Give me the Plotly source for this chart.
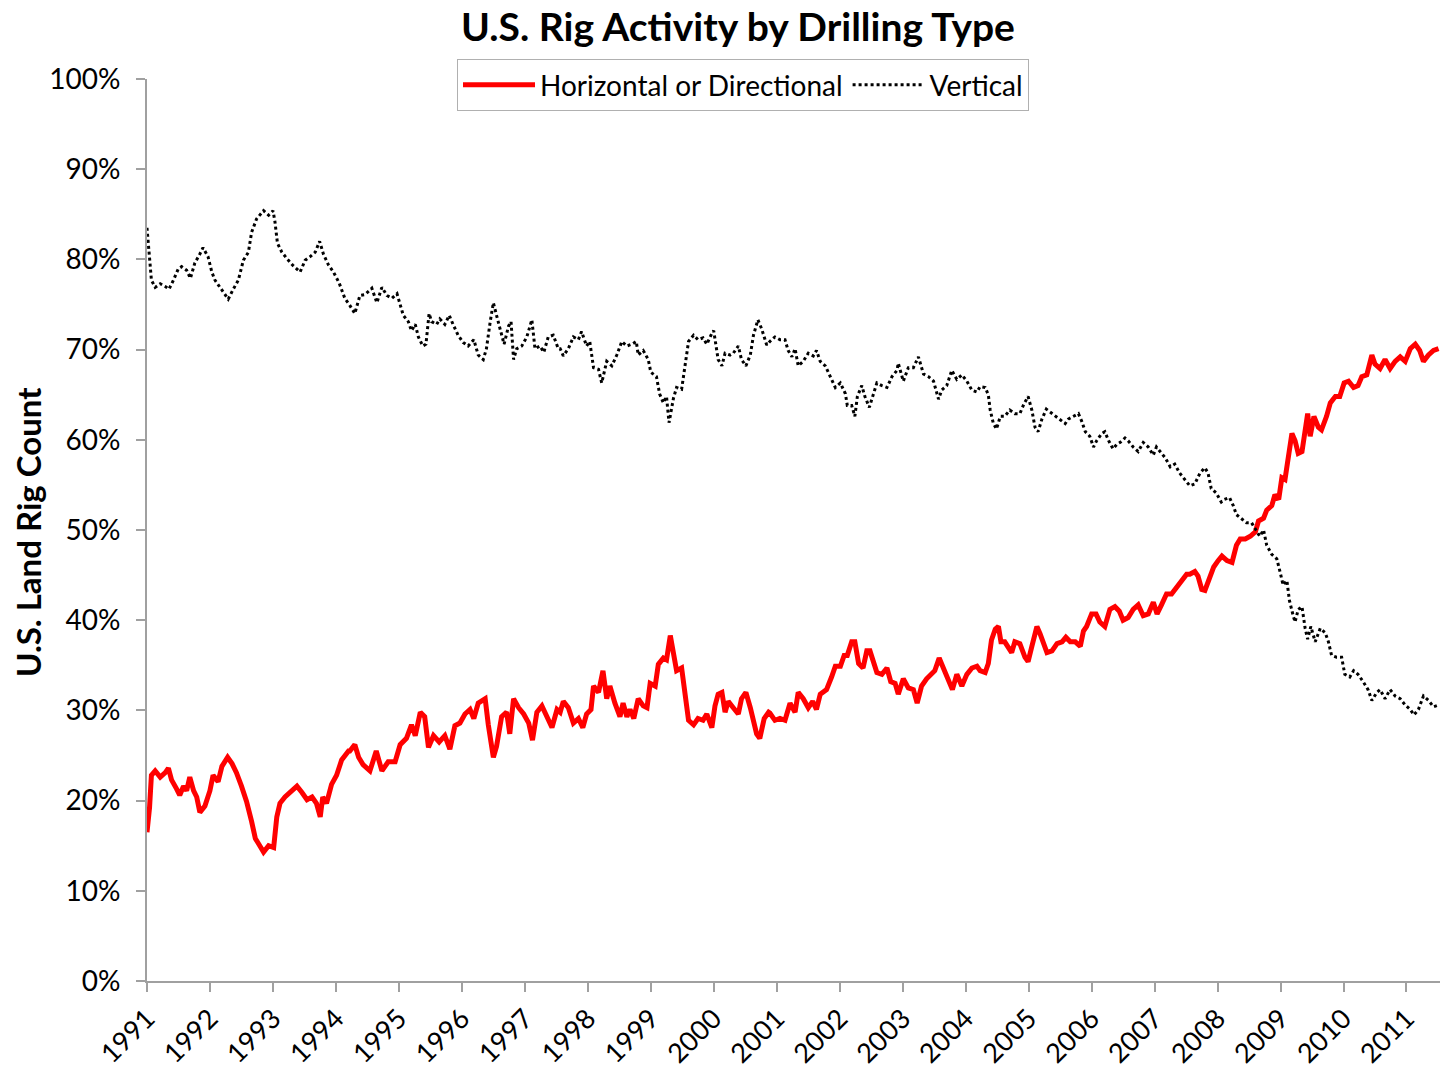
import pandas as pd
import plotly.graph_objects as go

# ---- data (decimal years, percent of U.S. land rig count) ----
horiz_t = [
    1991.00, 1991.04, 1991.07, 1991.13, 1991.21, 1991.29, 1991.34, 1991.39, 1991.47, 1991.52,
    1991.58, 1991.63, 1991.68, 1991.74, 1991.79, 1991.84, 1991.92, 1992.00, 1992.05, 1992.13,
    1992.19, 1992.28, 1992.35, 1992.42, 1992.50, 1992.58, 1992.66, 1992.72, 1992.79, 1992.85,
    1992.93, 1993.01, 1993.06, 1993.11, 1993.19, 1993.27, 1993.38, 1993.46, 1993.54, 1993.62,
    1993.69, 1993.75, 1993.79, 1993.85, 1993.93, 1994.01, 1994.09, 1994.20,
    1994.22, 1994.30, 1994.36, 1994.43, 1994.54, 1994.64, 1994.73, 1994.83, 1994.94, 1995.02,
    1995.12, 1995.20, 1995.26, 1995.34, 1995.41, 1995.47, 1995.55, 1995.64, 1995.73, 1995.81,
    1995.89, 1995.97, 1996.05, 1996.13, 1996.19, 1996.26, 1996.37, 1996.42, 1996.50, 1996.55,
    1996.63, 1996.71, 1996.76, 1996.82, 1996.90, 1996.98, 1997.06, 1997.12, 1997.19, 1997.27,
    1997.35, 1997.43, 1997.51,
    1997.56, 1997.61, 1997.69, 1997.77, 1997.85, 1997.92, 1997.98, 1998.05, 1998.09, 1998.17,
    1998.24, 1998.30, 1998.35, 1998.43, 1998.51, 1998.56, 1998.62, 1998.67, 1998.73, 1998.80,
    1998.88, 1998.94, 1998.99, 1999.07, 1999.12, 1999.20, 1999.25, 1999.31, 1999.36, 1999.41,
    1999.49, 1999.54, 1999.60, 1999.68, 1999.75, 1999.83, 1999.89, 1999.97, 2000.02, 2000.07,
    2000.13, 2000.18, 2000.23, 2000.31, 2000.39, 2000.44, 2000.51, 2000.58, 2000.63, 2000.68,
    2000.73, 2000.80, 2000.87,
    2000.89, 2000.97, 2001.05, 2001.13, 2001.21, 2001.29, 2001.34, 2001.42, 2001.50, 2001.57,
    2001.63, 2001.69, 2001.79, 2001.87, 2001.93, 2002.01, 2002.07, 2002.12, 2002.19, 2002.24,
    2002.30, 2002.37, 2002.43, 2002.48, 2002.53, 2002.59, 2002.67, 2002.75, 2002.81, 2002.88,
    2002.93, 2003.01, 2003.09, 2003.17, 2003.23, 2003.30, 2003.38, 2003.46, 2003.51, 2003.58,
    2003.65, 2003.72, 2003.79, 2003.86, 2003.94, 2004.02, 2004.10, 2004.18,
    2004.23, 2004.31, 2004.36, 2004.41, 2004.47, 2004.52, 2004.56, 2004.62, 2004.68, 2004.73,
    2004.78, 2004.86, 2004.94, 2004.99, 2005.05, 2005.13, 2005.18, 2005.23, 2005.29, 2005.37,
    2005.45, 2005.53, 2005.59, 2005.66, 2005.74, 2005.82, 2005.87, 2005.92, 2006.00, 2006.07,
    2006.13, 2006.21, 2006.29, 2006.37, 2006.44, 2006.50, 2006.58, 2006.66, 2006.74, 2006.82,
    2006.90, 2006.98, 2007.04, 2007.11, 2007.19, 2007.27, 2007.35, 2007.43, 2007.51,
    2007.56, 2007.64, 2007.69, 2007.75, 2007.80, 2007.88, 2007.94, 2008.01, 2008.07, 2008.15,
    2008.23, 2008.30, 2008.36, 2008.44, 2008.52, 2008.60, 2008.65, 2008.73, 2008.78, 2008.86,
    2008.91, 2008.97, 2009.02, 2009.07, 2009.12, 2009.18, 2009.23, 2009.28, 2009.34, 2009.39,
    2009.43, 2009.47, 2009.53, 2009.60, 2009.65, 2009.73, 2009.79, 2009.87, 2009.94, 2010.01,
    2010.08, 2010.16, 2010.23, 2010.29, 2010.37, 2010.45, 2010.50, 2010.58, 2010.66, 2010.74,
    2010.82, 2010.90, 2010.98, 2011.06, 2011.14, 2011.21, 2011.27, 2011.35, 2011.43, 2011.51,
]
horiz_pct = [
    16.5, 19.2, 22.8, 23.3, 22.6, 23.1, 23.6, 22.3, 21.3, 20.6,
    21.6, 21.1, 22.6, 21.1, 20.4, 18.7, 19.4, 21.1, 22.8, 22.1,
    23.8, 24.8, 24.1, 23.1, 21.6, 19.9, 17.7, 15.8, 15.0, 14.3,
    15.0, 14.8, 18.2, 19.7, 20.4, 20.9, 21.6, 20.9, 20.1, 20.4,
    19.7, 18.2, 20.4, 19.7, 21.8, 22.8, 24.5, 25.5,
    25.5, 26.2, 24.8, 24.0, 23.3, 25.5, 23.3, 24.3, 24.3, 26.2,
    26.9, 28.4, 27.2, 29.8, 29.3, 25.9, 27.2, 26.5, 27.2, 25.7,
    28.3, 28.6, 29.6, 30.1, 29.1, 30.8, 31.3, 28.4, 24.8, 26.0,
    29.3, 29.8, 27.4, 31.3, 30.3, 29.6, 28.6, 26.7, 29.8, 30.5,
    29.3, 28.1, 30.1,
    29.8, 31.0, 30.3, 28.6, 29.1, 28.1, 29.6, 30.1, 32.7, 32.0,
    34.4, 31.3, 32.7, 30.8, 29.3, 30.8, 29.3, 30.1, 29.1, 31.3,
    30.5, 30.3, 33.0, 32.7, 35.1, 35.8, 35.6, 38.3, 36.1, 34.4,
    34.7, 31.8, 28.9, 28.4, 29.1, 28.9, 29.6, 28.1, 30.5, 31.8,
    32.0, 29.8, 31.0, 30.3, 29.6, 31.3, 32.0, 30.3, 28.9, 27.4,
    26.9, 29.1, 29.8,
    29.7, 28.9, 29.1, 28.9, 30.8, 29.8, 32.0, 31.3, 30.3, 31.0,
    30.1, 31.8, 32.3, 33.7, 34.9, 34.9, 36.1, 36.1, 37.6, 37.6,
    35.2, 34.7, 36.6, 36.6, 35.4, 34.2, 34.0, 34.7, 33.2, 33.0,
    31.8, 33.5, 32.5, 32.3, 30.8, 32.7, 33.5, 34.0, 34.4, 35.8,
    34.7, 33.7, 32.3, 34.0, 32.7, 34.0, 34.7, 34.9,
    34.4, 34.2, 35.2, 37.8, 39.0, 39.3, 37.6, 37.6, 36.9, 36.4,
    37.6, 37.4, 35.9, 35.4, 37.1, 39.3, 38.5, 37.6, 36.4, 36.6,
    37.4, 37.6, 38.1, 37.6, 37.6, 37.1, 38.8, 39.3, 40.7, 40.7,
    39.8, 39.3, 41.2, 41.5, 41.0, 40.0, 40.3, 41.2, 41.7, 40.5,
    40.7, 42.0, 40.7, 41.7, 42.9, 42.9, 43.7, 44.4, 45.1,
    45.1, 45.4, 44.9, 43.4, 43.3, 44.9, 45.9, 46.6, 47.1, 46.6,
    46.4, 48.3, 49.0, 49.0, 49.3, 49.8, 51.0, 51.3, 52.2, 52.7,
    53.9, 53.4, 55.8, 55.6, 58.3, 60.7, 59.9, 58.5, 58.7, 61.4,
    62.9, 60.4, 62.6, 61.4, 61.1, 62.6, 64.1, 64.8, 64.8, 66.3,
    66.5, 65.8, 66.0, 67.0, 67.2, 69.4, 68.4, 67.9, 68.9, 67.9,
    68.7, 69.2, 68.7, 70.1, 70.6, 69.9, 68.7, 69.4, 69.9, 70.1,
]

vert_t = [
    1991.00, 1991.04, 1991.07, 1991.13, 1991.21, 1991.29, 1991.35, 1991.42, 1991.50, 1991.55,
    1991.63, 1991.69, 1991.76, 1991.84, 1991.89, 1991.97, 1992.03, 1992.08, 1992.16, 1992.24,
    1992.29, 1992.37, 1992.45, 1992.53, 1992.61, 1992.66, 1992.74, 1992.85, 1992.93, 1993.00,
    1993.03, 1993.07, 1993.14, 1993.22, 1993.32, 1993.43, 1993.51, 1993.59, 1993.67, 1993.74,
    1993.80, 1993.88, 1993.96, 1994.05, 1994.14,
    1994.22, 1994.30, 1994.38, 1994.46, 1994.57, 1994.65, 1994.73, 1994.81, 1994.89, 1994.97,
    1995.02, 1995.07, 1995.15, 1995.20, 1995.26, 1995.31, 1995.38, 1995.43, 1995.48, 1995.52,
    1995.60, 1995.65, 1995.73, 1995.80, 1995.86, 1995.94, 1996.02, 1996.10, 1996.19, 1996.26,
    1996.34, 1996.39, 1996.45, 1996.50, 1996.55, 1996.61, 1996.67, 1996.74, 1996.78, 1996.82,
    1996.87, 1996.95, 1997.03, 1997.11, 1997.16, 1997.24, 1997.30, 1997.37, 1997.45, 1997.53,
    1997.56, 1997.61, 1997.69, 1997.77, 1997.85, 1997.90, 1997.98, 1998.03, 1998.09, 1998.17,
    1998.22, 1998.30, 1998.38, 1998.46, 1998.54, 1998.62, 1998.70, 1998.77, 1998.80, 1998.88,
    1998.96, 1999.00, 1999.09, 1999.14, 1999.20, 1999.25, 1999.29, 1999.36, 1999.41, 1999.49,
    1999.54, 1999.60, 1999.68, 1999.75, 1999.83, 1999.89, 1999.97, 2000.00, 2000.07, 2000.13,
    2000.18, 2000.26, 2000.31, 2000.39, 2000.44, 2000.51, 2000.58, 2000.63, 2000.70, 2000.76,
    2000.84,
    2000.89, 2000.97, 2001.05, 2001.13, 2001.18, 2001.24, 2001.29, 2001.34, 2001.42, 2001.50,
    2001.58, 2001.63, 2001.69, 2001.77, 2001.85, 2001.93, 2002.01, 2002.09, 2002.12, 2002.19,
    2002.24, 2002.28, 2002.35, 2002.40, 2002.47, 2002.53, 2002.59, 2002.67, 2002.75, 2002.83,
    2002.91, 2002.93, 2003.01, 2003.09, 2003.17, 2003.25, 2003.33, 2003.41, 2003.49, 2003.57,
    2003.62, 2003.70, 2003.78, 2003.86, 2003.94, 2004.02, 2004.10, 2004.18,
    2004.23, 2004.31, 2004.36, 2004.39, 2004.44, 2004.49, 2004.55, 2004.62, 2004.70, 2004.78,
    2004.86, 2004.92, 2004.99, 2005.05, 2005.10, 2005.15, 2005.21, 2005.28, 2005.34, 2005.42,
    2005.50, 2005.58, 2005.63, 2005.71, 2005.79, 2005.84, 2005.90, 2005.97, 2006.03, 2006.08,
    2006.16, 2006.21, 2006.27, 2006.34, 2006.40, 2006.45, 2006.53, 2006.58, 2006.66, 2006.74,
    2006.82, 2006.90, 2006.98, 2007.03, 2007.11, 2007.17, 2007.25, 2007.32, 2007.40, 2007.48,
    2007.56, 2007.64, 2007.72, 2007.80, 2007.85, 2007.90, 2007.98, 2008.06, 2008.11, 2008.19,
    2008.25, 2008.30, 2008.38, 2008.46, 2008.54, 2008.61, 2008.67, 2008.73, 2008.78, 2008.86,
    2008.94, 2008.99, 2009.04, 2009.10, 2009.14, 2009.20, 2009.23, 2009.28, 2009.34, 2009.39,
    2009.43, 2009.48, 2009.55, 2009.63, 2009.71, 2009.76, 2009.81, 2009.89, 2009.97, 2010.02,
    2010.10, 2010.16, 2010.23, 2010.31, 2010.39, 2010.45, 2010.53, 2010.58, 2010.66, 2010.74,
    2010.82, 2010.90, 2010.98, 2011.06, 2011.12, 2011.19, 2011.27, 2011.35, 2011.43, 2011.51,
]
vert_pct = [
    83.5, 80.3, 77.7, 76.9, 77.3, 77.0, 76.7, 77.7, 79.0, 79.2,
    78.8, 77.9, 79.6, 80.6, 81.3, 80.3, 78.6, 77.7, 76.9, 76.2,
    75.6, 76.7, 77.7, 79.9, 80.8, 83.0, 84.5, 85.4, 84.9, 85.4,
    84.2, 81.8, 80.8, 80.1, 79.3, 78.6, 79.9, 80.3, 80.8, 82.0,
    80.6, 79.4, 78.6, 77.4, 75.7,
    74.9, 74.0, 76.0, 76.1, 76.8, 75.2, 76.9, 76.0, 75.7, 76.2,
    75.0, 73.8, 73.1, 72.1, 72.8, 71.4, 70.4, 70.6, 74.0, 73.1,
    72.8, 73.4, 72.8, 73.8, 72.8, 71.6, 70.8, 70.4, 71.1, 69.4,
    68.9, 70.1, 73.1, 75.2, 73.8, 72.1, 70.6, 72.6, 73.1, 68.9,
    70.1, 70.4, 71.4, 73.3, 70.1, 70.4, 69.7, 71.4, 71.6, 70.1,
    70.1, 69.3, 70.1, 71.4, 71.1, 72.0, 70.4, 70.9, 68.0, 67.8,
    66.3, 68.7, 68.2, 69.4, 70.9, 70.4, 70.6, 70.9, 69.4, 69.9,
    68.9, 67.5, 67.0, 65.1, 64.1, 64.8, 61.9, 64.6, 65.8, 65.6,
    68.2, 70.9, 71.6, 71.1, 71.3, 70.6, 71.8, 72.1, 68.9, 68.2,
    69.6, 69.4, 69.6, 70.4, 68.9, 68.2, 69.4, 71.6, 73.3, 72.3,
    70.5,
    70.9, 71.4, 71.1, 71.1, 69.9, 69.2, 70.1, 68.2, 68.7, 69.6,
    69.3, 69.9, 68.7, 68.2, 67.0, 65.8, 66.3, 65.1, 63.8, 63.8,
    62.6, 64.8, 66.0, 64.8, 63.6, 65.1, 66.3, 66.0, 65.8, 67.0,
    67.7, 68.5, 66.5, 68.0, 68.0, 69.2, 67.3, 67.0, 66.5, 64.5,
    65.5, 66.0, 67.7, 66.7, 67.2, 66.5, 65.5, 65.3,
    65.9, 65.8, 65.0, 63.3, 61.8, 61.2, 62.6, 62.6, 63.3, 62.9,
    62.9, 63.9, 64.8, 63.3, 61.4, 60.9, 62.3, 63.4, 63.1, 62.6,
    62.3, 61.8, 62.3, 62.6, 62.9, 62.1, 60.9, 60.4, 59.2, 59.9,
    60.7, 60.9, 59.9, 59.0, 59.5, 59.7, 60.2, 59.9, 59.2, 58.7,
    59.7, 59.2, 58.3, 59.2, 58.5, 58.0, 57.0, 57.3, 56.3, 55.6,
    54.9, 55.1, 56.3, 56.9, 56.3, 54.6, 54.1, 53.1, 53.4, 53.6,
    52.7, 51.7, 51.2, 50.8, 50.8, 50.0, 49.3, 50.0, 48.3, 47.3,
    46.8, 45.4, 43.9, 44.4, 42.2, 40.5, 39.8, 41.2, 41.5, 39.1,
    37.9, 39.3, 37.6, 39.1, 38.6, 37.6, 36.1, 35.9, 35.9, 34.0,
    33.7, 34.4, 34.0, 33.2, 32.3, 31.1, 32.0, 32.3, 31.3, 32.3,
    31.6, 31.3, 30.6, 30.1, 29.5, 30.1, 31.6, 31.1, 30.4, 30.6,
]

year_labels = [str(y) for y in range(1991, 2012)]
y_ticks = list(range(0, 101, 10))


def to_date(t):
    y = int(t)
    start = pd.Timestamp(year=y, month=1, day=1)
    end = pd.Timestamp(year=y + 1, month=1, day=1)
    return start + (end - start) * (t - y)


hx = [to_date(t) for t in horiz_t]
vx = [to_date(t) for t in vert_t]

FONT = "Lato"
W, H = 1441, 1070
L, T = 147, 79
PW = W - L - 1          # plot width  (1293)
PH = 904                # plot height
B = H - T - PH

fig = go.Figure()
fig.add_trace(go.Scatter(x=hx, y=horiz_pct, mode="lines", name="Horizontal or Directional",
                         line=dict(color="#FF0000", width=5)))
fig.add_trace(go.Scatter(x=vx, y=vert_pct, mode="lines", name="Vertical",
                         line=dict(color="#000000", width=3, dash="dot")))

fig.update_layout(
    width=W, height=H,
    margin=dict(l=L, r=1, t=T, b=B),
    paper_bgcolor="white", plot_bgcolor="white",
    font=dict(family=FONT, color="black"),
    title=dict(text="<b>U.S. Rig Activity by Drilling Type</b>", x=738 / W, xanchor="center",
               y=1 - 27 / H, yanchor="middle", yref="container",
               font=dict(size=39, family=FONT, color="black")),
    legend=dict(orientation="h", x=(457 - L) / PW, xanchor="left",
                y=1 + 20 / PH, yanchor="top",
                bordercolor="#B0B0B0", borderwidth=1, bgcolor="white",
                font=dict(size=28, family=FONT, color="black"),
                itemwidth=72),
    showlegend=True,
)

fig.update_xaxes(
    type="date",
    range=[to_date(1991.0), to_date(2011.533)],
    tickvals=[to_date(float(y)) for y in year_labels],
    ticktext=year_labels,
    tickangle=-45,
    tickfont=dict(size=27, family=FONT, color="black"),
    ticks="outside", ticklen=9, tickcolor="#A0A0A0", tickwidth=2,
    showline=True, linecolor="#A0A0A0", linewidth=2,
    showgrid=False, zeroline=False,
)
fig.update_yaxes(
    range=[0, 100],
    tickvals=y_ticks,
    ticktext=[f"{v}%" for v in y_ticks],
    tickfont=dict(size=28, family=FONT, color="black"),
    ticks="outside", ticklen=9, tickcolor="#A0A0A0", tickwidth=2,
    ticklabelstandoff=10,
    showline=True, linecolor="#A0A0A0", linewidth=2,
    showgrid=False, zeroline=False,
)

fig.add_annotation(text="<b>U.S. Land Rig Count</b>", textangle=-90,
                   xref="paper", yref="paper", x=(28 - L) / PW, y=(983 - 533) / PH,
                   xanchor="center", yanchor="middle", showarrow=False,
                   font=dict(size=33, family=FONT, color="black"))

# remove the default page margin so the 1441x1070 figure fills the window exactly
fig.write_html("out.html", config={"displayModeBar": False},
               post_script="document.body.style.margin='0';document.body.style.overflow='hidden';")
